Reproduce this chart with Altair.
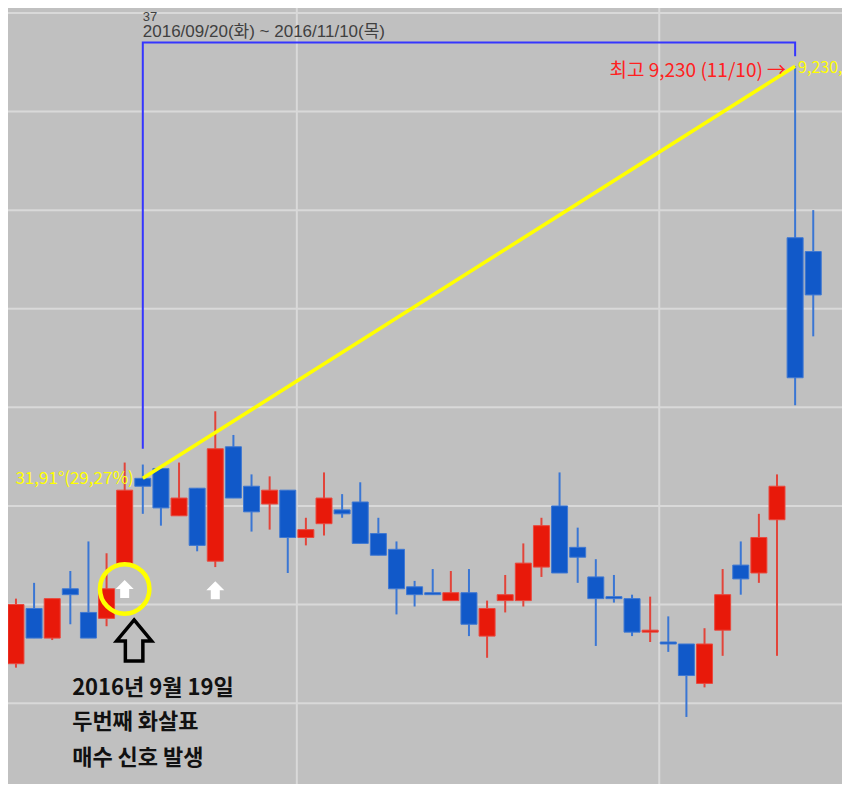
import altair as alt
import pandas as pd

# ---- data -------------------------------------------------------------
dates = ["09/05", "09/06", "09/07", "09/08", "09/09", "09/12", "09/13", "09/19",
         "09/20", "09/21", "09/22", "09/23", "09/26", "09/27", "09/28", "09/29",
         "09/30", "10/04", "10/05", "10/06", "10/07", "10/10", "10/11", "10/12",
         "10/13", "10/14", "10/17", "10/18", "10/19", "10/20", "10/21", "10/24",
         "10/25", "10/26", "10/27", "10/28", "10/31", "11/01", "11/02", "11/03",
         "11/04", "11/07", "11/08", "11/09", "11/10", "11/11"]
opens = [6300, 6200, 6480, 6330, 6580, 6460, 6430, 6700, 7140, 7190, 6950, 7090,
         6720, 7300, 7100, 7010, 7080, 6840, 6910, 6980, 7020, 6860, 6780, 6590,
         6560, 6520, 6560, 6340, 6520, 6520, 6690, 7000, 6790, 6640, 6540, 6530,
         6360, 6310, 6300, 6100, 6370, 6700, 6660, 6930, 8360, 8290]
highs = [6330, 6530, 6610, 6530, 6670, 6820, 6760, 7220, 7210, 7200, 7220, 7090,
         7480, 7360, 7160, 7150, 7080, 6940, 7170, 7060, 7120, 6940, 6820, 6620,
         6680, 6670, 6680, 6520, 6650, 6810, 6940, 7170, 6890, 6730, 6650, 6550,
         6540, 6440, 6300, 6380, 6680, 6820, 6960, 7160, 9230, 8500]
lows = [6180, 6180, 6330, 6320, 6400, 6330, 6390, 6700, 6960, 6900, 6950, 6770,
        6690, 7040, 6870, 6880, 6660, 6800, 6850, 6940, 6810, 6750, 6450, 6490,
        6550, 6520, 6340, 6230, 6460, 6490, 6640, 6660, 6610, 6290, 6510, 6340,
        6310, 6260, 5930, 6080, 6240, 6550, 6610, 6240, 7510, 7860]
closes = [6200, 6500, 6330, 6530, 6550, 6330, 6580, 7080, 7100, 6990, 7040, 6800,
          7290, 7040, 6970, 7080, 6840, 6880, 7040, 6960, 6810, 6750, 6580, 6550,
          6550, 6560, 6400, 6480, 6550, 6710, 6900, 6660, 6740, 6530, 6530, 6360,
          6370, 6300, 6140, 6300, 6550, 6630, 6840, 7100, 7650, 8070]

price_grid = [6000, 6500, 7000, 7500, 8000, 8500, 9000, 9500]
month_breaks = [16.5, 36.5]          # between 09/30-10/04 and 10/31-11/01

range_start, range_end = 8, 44      # 2016/09/20 .. 2016/11/10
signal_day = 7                      # 2016/09/19
arrow_days = [7, 12]

count_label = "37"
range_label = "2016/09/20(화) ~ 2016/11/10(목)"
max_label = "최고 9,230 (11/10) →"
max_value_label = "9,230,"
angle_label = "31,91°(29,27%)"
note_lines = ["2016년 9월 19일", "두번째 화살표", "매수 신호 발생"]

# ---- frames -----------------------------------------------------------
df = pd.DataFrame({"date": dates, "open": opens, "high": highs,
                   "low": lows, "close": closes})
df["pos"] = range(len(df))
df["dir"] = ["up" if c >= o else "down" for o, c in zip(opens, closes)]

start_price = opens[range_start]
max_price = highs[range_end]

X = alt.Scale(domain=[0.8364, 46.311], nice=False, zero=False)
Y = alt.Scale(domain=[5590, 9525], nice=False, zero=False)

def xq(f="pos"):
    return alt.X(f, type="quantitative", scale=X, axis=None)

def yq(f):
    return alt.Y(f, type="quantitative", scale=Y, axis=None)

is_up = alt.datum.dir == "up"
body_fill = alt.condition(is_up, alt.value("#e8190a"), alt.value("#1159c9"))
body_edge = alt.condition(is_up, alt.value("#e9483e"), alt.value("#3f78d2"))
wick_col = alt.condition(is_up, alt.value("#e2443a"), alt.value("#3a76d4"))

grid_h = alt.Chart(pd.DataFrame({"p": price_grid})).mark_rule(
    color="#d9d9d9", strokeWidth=2).encode(y=yq("p"))
grid_v = alt.Chart(pd.DataFrame({"pos": month_breaks})).mark_rule(
    color="#d9d9d9", strokeWidth=2).encode(x=xq())

bracket = alt.Chart(pd.DataFrame({
    "pos": [range_start, range_start, range_end, range_end],
    "p": [7290, 9350, 9350, 9280],
    "o": [0, 1, 2, 3]})).mark_line(color="#3535ff", strokeWidth=2).encode(
    x=xq(), y=yq("p"), order="o:Q")

wicks = alt.Chart(df).mark_rule(strokeWidth=2, clip=True).encode(
    x=xq(), y=yq("low"), y2="high", color=wick_col)
bodies = alt.Chart(df).mark_bar(size=16, strokeWidth=1, clip=True).encode(
    x=xq(), y=yq("open"), y2="close", fill=body_fill, stroke=body_edge)

trend = alt.Chart(pd.DataFrame({"pos": [range_start, range_end],
                                "p": [start_price, max_price]})).mark_line(
    color="#ffff00", strokeWidth=3.5).encode(x=xq(), y=yq("p"))

FONT = "Noto Sans CJK KR"
SMALL = "Liberation Sans, Noto Sans CJK KR"

def label(pos, p, text, font=FONT, **kw):
    return alt.Chart(pd.DataFrame({"pos": [pos], "p": [p], "t": [text]})).mark_text(
        font=font, baseline="alphabetic", **kw).encode(
        x=xq(), y=yq("p"), text="t:N")

t_count = label(range_start, 9459, count_label, font=SMALL, align="left",
                fontSize=13, color="#404040")
t_range = label(range_start, 9376, range_label, font=SMALL, align="left",
                fontSize=17, color="#404040")
t_max = label(range_end, max_price, max_label, align="right", fontSize=19,
              color="#ff2020", dx=-9, dy=11)
t_maxv = label(range_end, max_price, max_value_label, align="left", fontSize=16,
               color="#ffff00", dx=3, dy=7)
t_angle = label(range_start, start_price, angle_label, align="right", fontSize=17,
                color="#ffff00", dx=-9, dy=6)

notes = alt.Chart(pd.DataFrame({"pos": [4.1] * 3, "p": [6042, 5869, 5687],
                                "t": note_lines})).mark_text(
    font=FONT, fontSize=22, fontWeight="bold", align="left",
    baseline="alphabetic", color="#111111").encode(x=xq(), y=yq("p"), text="t:N")

circle = alt.Chart(pd.DataFrame({"pos": [signal_day], "p": [6579]})).mark_point(
    shape="circle", size=2450, filled=False, color="#ffff00", strokeWidth=4.5,
    opacity=1).encode(x=xq(), y=yq("p"))

UP = "M0,-1L1,0L0.5,0L0.5,1L-0.5,1L-0.5,0L-1,0Z"
white_arrows = alt.Chart(pd.DataFrame({"pos": arrow_days, "p": [6579, 6572]})).mark_point(
    shape=UP, size=324, filled=True, color="#ffffff", opacity=1).encode(
    x=xq(), y=yq("p"))

BIG = "M0,-1.17L1,0.03L0.5,0.03L0.5,1.17L-0.5,1.17L-0.5,0.03L-1,0.03Z"
big_arrow = alt.Chart(pd.DataFrame({"pos": [7.52], "p": [6318]})).mark_point(
    shape=BIG, size=1225, filled=False, color="#000000", strokeWidth=3.5,
    strokeJoin="miter", opacity=1).encode(x=xq(), y=yq("p"))

chart = alt.layer(
    grid_h, grid_v, bracket, wicks, bodies, trend,
    t_count, t_range, t_max, t_maxv, t_angle, notes,
    circle, white_arrows, big_arrow
).properties(
    width=834, height=776, padding=0, background="#c0c0c0",
    autosize=alt.AutoSizeParams(type="none")
).configure_view(stroke=None, fill="#c0c0c0")

chart.save("out.html", embed_options={"renderer": "svg", "actions": False})
